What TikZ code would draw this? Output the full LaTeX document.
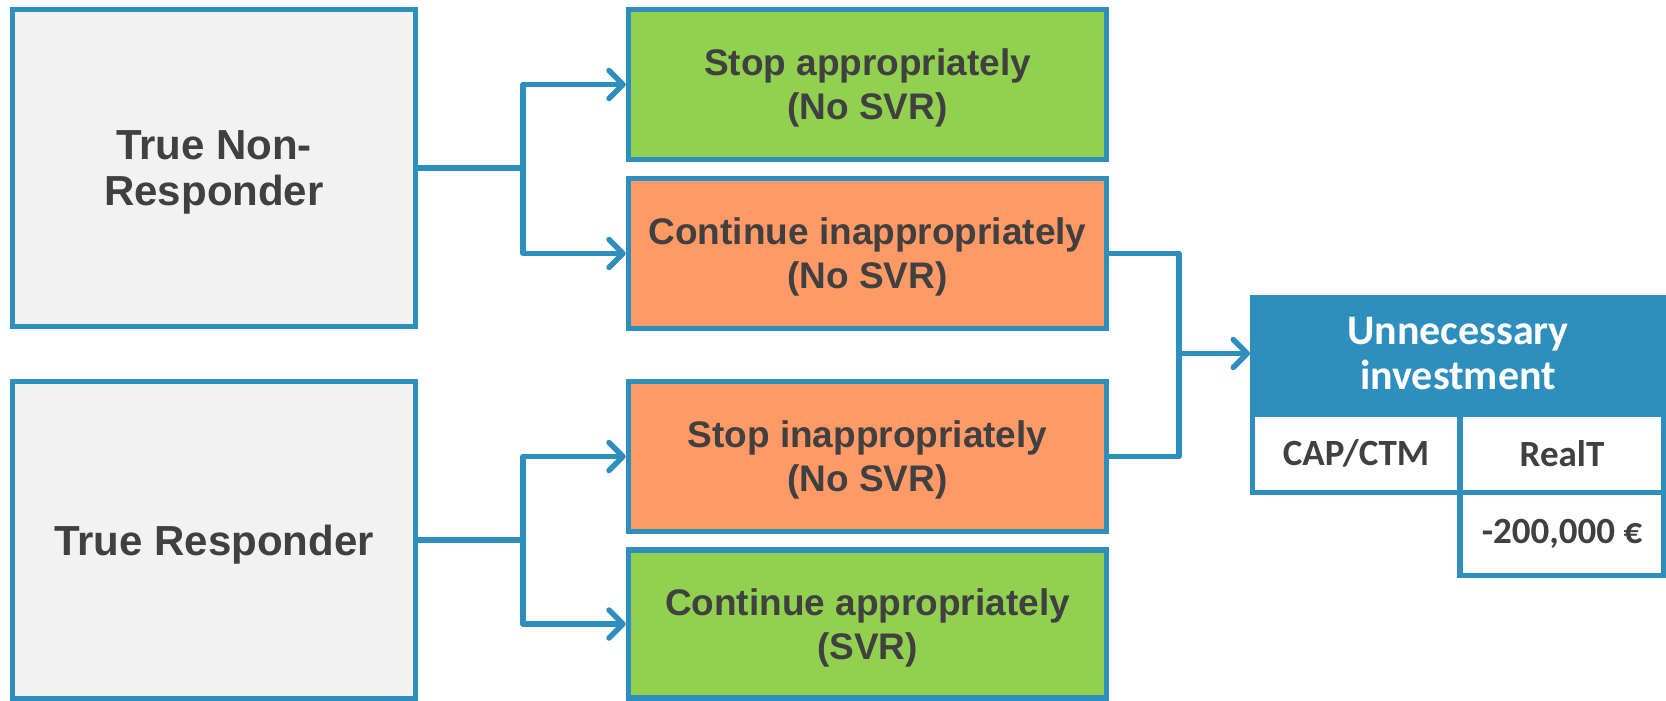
\documentclass[tikz,border=0pt]{standalone}
\usepackage{fontspec}
\setmainfont{Liberation Sans}
\newfontfamily\calibri{Carlito}
\usetikzlibrary{arrows.meta}

\definecolor{lineblue}{RGB}{46,142,190}
\definecolor{boxgray}{RGB}{242,242,242}
\definecolor{okgreen}{RGB}{146,208,80}
\definecolor{badorange}{RGB}{255,153,102}
\definecolor{txtgray}{RGB}{64,64,64}

\begin{document}
\begin{tikzpicture}[x=1pt,y=-1pt]
  \useasboundingbox (0,0) rectangle (1666,701);
  \tikzstyle{every node}=[rectangle,draw=lineblue,line width=5.5pt,text=txtgray,align=center]
  \tikzstyle{truth}=[fill=boxgray,minimum width=403pt,minimum height=317pt,text depth=0pt,
                     font=\bfseries\fontsize{42}{46}\selectfont]
  \tikzstyle{decision}=[minimum width=478pt,minimum height=150pt,text depth=0pt,
                        font=\bfseries\fontsize{37}{44}\selectfont]
  \tikzstyle{cell}=[fill=white,font=\calibri\bfseries\fontsize{37}{44}\selectfont]

%% true status
  \node[truth] (non-resp) at (214,168) {True Non-\\Responder};
  \node[truth] (resp)     at (214,540) {True Responder};

%% decisions
  \node[decision,fill=okgreen]   (stop-ok)  at (867.5,84.5)  {Stop appropriately\\(No SVR)};
  \node[decision,fill=badorange] (cont-bad) at (867.5,253.5) {Continue inappropriately\\(No SVR)};
  \node[decision,fill=badorange] (stop-bad) at (867.5,456.5) {Stop inappropriately\\(No SVR)};
  \node[decision,fill=okgreen,minimum height=148pt] (cont-ok) at (867.5,624) {Continue appropriately\\(SVR)};

%% cost table
  \node[draw=none,outer sep=0pt,fill=lineblue,text=white,minimum width=416pt,minimum height=117pt,
        font=\calibri\bfseries\fontsize{42}{45.5}\selectfont] (invest) at (1458,353.5) {Unnecessary\\investment};
  \node[cell,minimum width=207.5pt,minimum height=78pt] (cap)  at (1356,453.5) {CAP/CTM};
  \node[cell,minimum width=204pt,minimum height=78pt]   (realt) at (1562,453.5) {RealT};
  \node[cell,minimum width=204pt,minimum height=83pt]   (cost)  at (1562,534) {-200,000 €};

%% draw connections
  \tikzstyle{link}=[draw=lineblue,line width=5.5pt,line join=round]
  \tikzstyle{tip}=[-{Straight Barb[length=14pt,width=28pt,round]}]
  \coordinate (fork-a) at (523,168);
  \coordinate (fork-b) at (523,540);
  \coordinate (join)   at (1179,353.5);
  \draw[link] (non-resp.east) -- (fork-a);
  \draw[link] (resp.east) -- (fork-b);
  \foreach \fk/\dst in {fork-a/stop-ok, fork-a/cont-bad, fork-b/stop-bad, fork-b/cont-ok}
    \draw[link,tip] (\fk) |- (\dst.west);
  \draw[link] (cont-bad.east) -| (join) |- (stop-bad.east);
  \draw[link,tip] (join) -- (invest.west);
\end{tikzpicture}
\end{document}
